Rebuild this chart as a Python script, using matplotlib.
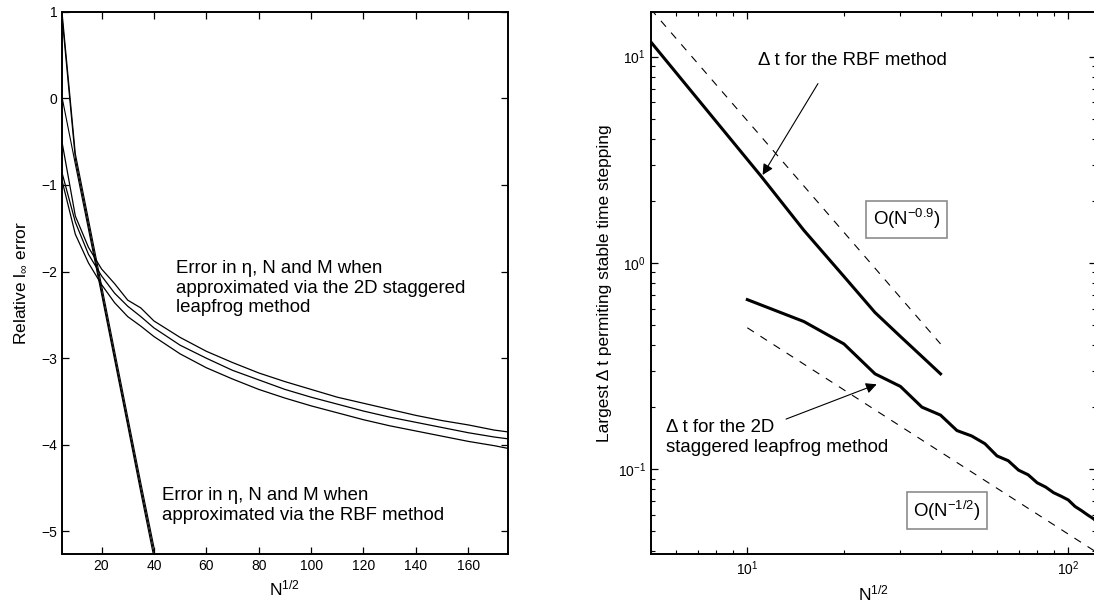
import numpy as np
import matplotlib
matplotlib.use("Agg")
import matplotlib.pyplot as plt

plt.rcParams['font.family'] = ['Liberation Sans', 'DejaVu Sans']
plt.rcParams['mathtext.fontset'] = 'custom'
plt.rcParams['mathtext.rm'] = 'Liberation Sans'
plt.rcParams['mathtext.it'] = 'Liberation Sans:italic'
plt.rcParams['mathtext.default'] = 'regular'

# left panel: log10 of relative max error vs N^(1/2)
lf_x = [5, 10, 15, 20, 25, 30, 35, 40, 50, 60, 70, 80, 90, 100, 110, 120,
        130, 140, 150, 160, 170, 175]
lf_upper = [-0.52, -1.36, -1.72, -1.97, -2.14, -2.33, -2.42, -2.57, -2.76, -2.92, -3.05,
            -3.17, -3.27, -3.36, -3.45, -3.52, -3.59, -3.66, -3.72, -3.77, -3.83, -3.85]
lf_middle = [-0.87, -1.43, -1.80, -2.05, -2.25, -2.40, -2.52, -2.65, -2.85, -3.00, -3.14,
             -3.25, -3.36, -3.45, -3.53, -3.61, -3.68, -3.74, -3.80, -3.86, -3.91, -3.93]
lf_lower = [-0.96, -1.57, -1.90, -2.15, -2.36, -2.52, -2.63, -2.75, -2.95, -3.11, -3.24,
            -3.36, -3.46, -3.55, -3.63, -3.71, -3.78, -3.84, -3.90, -3.96, -4.01, -4.04]

rbf_x = [5, 10, 15, 20, 25, 30, 35, 40]
rbf_a = [0.97, -0.64, -1.40, -2.16, -2.92, -3.68, -4.44, -5.18]
rbf_b = [0.91, -0.70, -1.46, -2.22, -2.98, -3.74, -4.50, -5.24]
rbf_c = [0.00, -0.76, -1.51, -2.26, -3.02, -3.78, -4.55, -5.30]

# right panel: largest stable time step
dt_rbf_x = [5, 11, 15, 20, 25, 30, 35, 40]
dt_rbf = [11.8, 2.65, 1.44, 0.86, 0.575, 0.44, 0.352, 0.29]
dt_lf_x = [10, 15, 20, 25, 30, 35, 40, 45, 50, 55, 60, 65, 70, 75, 80, 85,
           90, 95, 100, 105, 110, 115, 120, 125]
dt_lf = [0.664, 0.52, 0.405, 0.29, 0.252, 0.20, 0.183, 0.154, 0.145, 0.133, 0.116, 0.110,
         0.099, 0.094, 0.086, 0.082, 0.077, 0.074, 0.071, 0.066, 0.063, 0.060, 0.0575, 0.054]

# reference slopes
guide1_x = [5, 40]
guide1_y = [17.0, 0.405]
guide2_x = [10, 125]
guide2_y = [0.485, 0.0388]

fig = plt.figure(figsize=(10.94, 6.06), dpi=100)
ax1 = fig.add_axes([0.0569, 0.0858, 0.407, 0.895])
ax2 = fig.add_axes([0.5948, 0.0853, 0.407, 0.8944])

# ---- left
for yy in (lf_upper, lf_middle, lf_lower):
  ax1.plot(lf_x, yy, color='k', lw=0.9)
for yy in (rbf_a, rbf_b, rbf_c):
  ax1.plot(rbf_x, yy, color='k', lw=0.8)

ax1.set_xlim(5, 175)
ax1.set_ylim(-5.26, 1)
ax1.set_xticks([20, 40, 60, 80, 100, 120, 140, 160])
ax1.set_yticks([-5, -4, -3, -2, -1, 0, 1])
ax1.set_xlabel('N$^{1/2}$', fontsize=12.5, labelpad=4)
ax1.set_ylabel(r'Relative l$_{\infty}$ error', fontsize=12.5, labelpad=9)
ax1.text(48.5, -2.19, 'Error in η, N and M when\napproximated via the 2D staggered\nleapfrog method',
         fontsize=13.4, va='center', ha='left', linespacing=1.2)
ax1.text(43.2, -4.70, 'Error in η, N and M when\napproximated via the RBF method',
         fontsize=13.4, va='center', ha='left', linespacing=1.2)

# ---- right
ax2.loglog(dt_rbf_x, dt_rbf, color='k', lw=2.2)
ax2.loglog(dt_lf_x, dt_lf, color='k', lw=2.2)
ax2.loglog(guide1_x, guide1_y, color='k', lw=0.8, dashes=(7, 7))
ax2.loglog(guide2_x, guide2_y, color='k', lw=0.8, dashes=(7, 7))
ax2.set_xlim(5, 122)
ax2.set_ylim(0.0387, 16.4)
ax2.set_xlabel('N$^{1/2}$', fontsize=12.5, labelpad=4)
ax2.set_ylabel('Largest Δ t permiting stable time stepping', fontsize=12.5, labelpad=4)

box = dict(boxstyle='square,pad=0.35', fc='white', ec='0.55', lw=1.2)
ax2.text(31.4, 1.63, 'O(N$^{-0.9}$)', fontsize=13.4, ha='center', va='center', bbox=box)
ax2.text(41.9, 0.063, 'O(N$^{-1/2}$)', fontsize=13.4, ha='center', va='center', bbox=box)

arrow = dict(arrowstyle='-|>', color='k', lw=0.8, mutation_scale=16, shrinkA=0, shrinkB=0)
ax2.text(10.78, 9.58, 'Δ t for the RBF method', fontsize=13.4, ha='left', va='center')
ax2.annotate('', xy=(11.16, 2.67), xytext=(16.6, 7.4), arrowprops=arrow)
ax2.text(5.56, 0.143, 'Δ t for the 2D\nstaggered leapfrog method', fontsize=13.4,
         ha='left', va='center', linespacing=1.2)
ax2.annotate('', xy=(25.3, 0.258), xytext=(13.2, 0.175), arrowprops=arrow)

for ax in (ax1, ax2):
  ax.tick_params(which='both', direction='in', top=True, right=True, labelsize=10)
  ax.tick_params(which='major', length=5, width=0.9)
  ax.tick_params(which='minor', length=3, width=0.8)
  for s in ax.spines.values():
    s.set_linewidth(1.4)

fig.savefig('out.png', dpi=100)
